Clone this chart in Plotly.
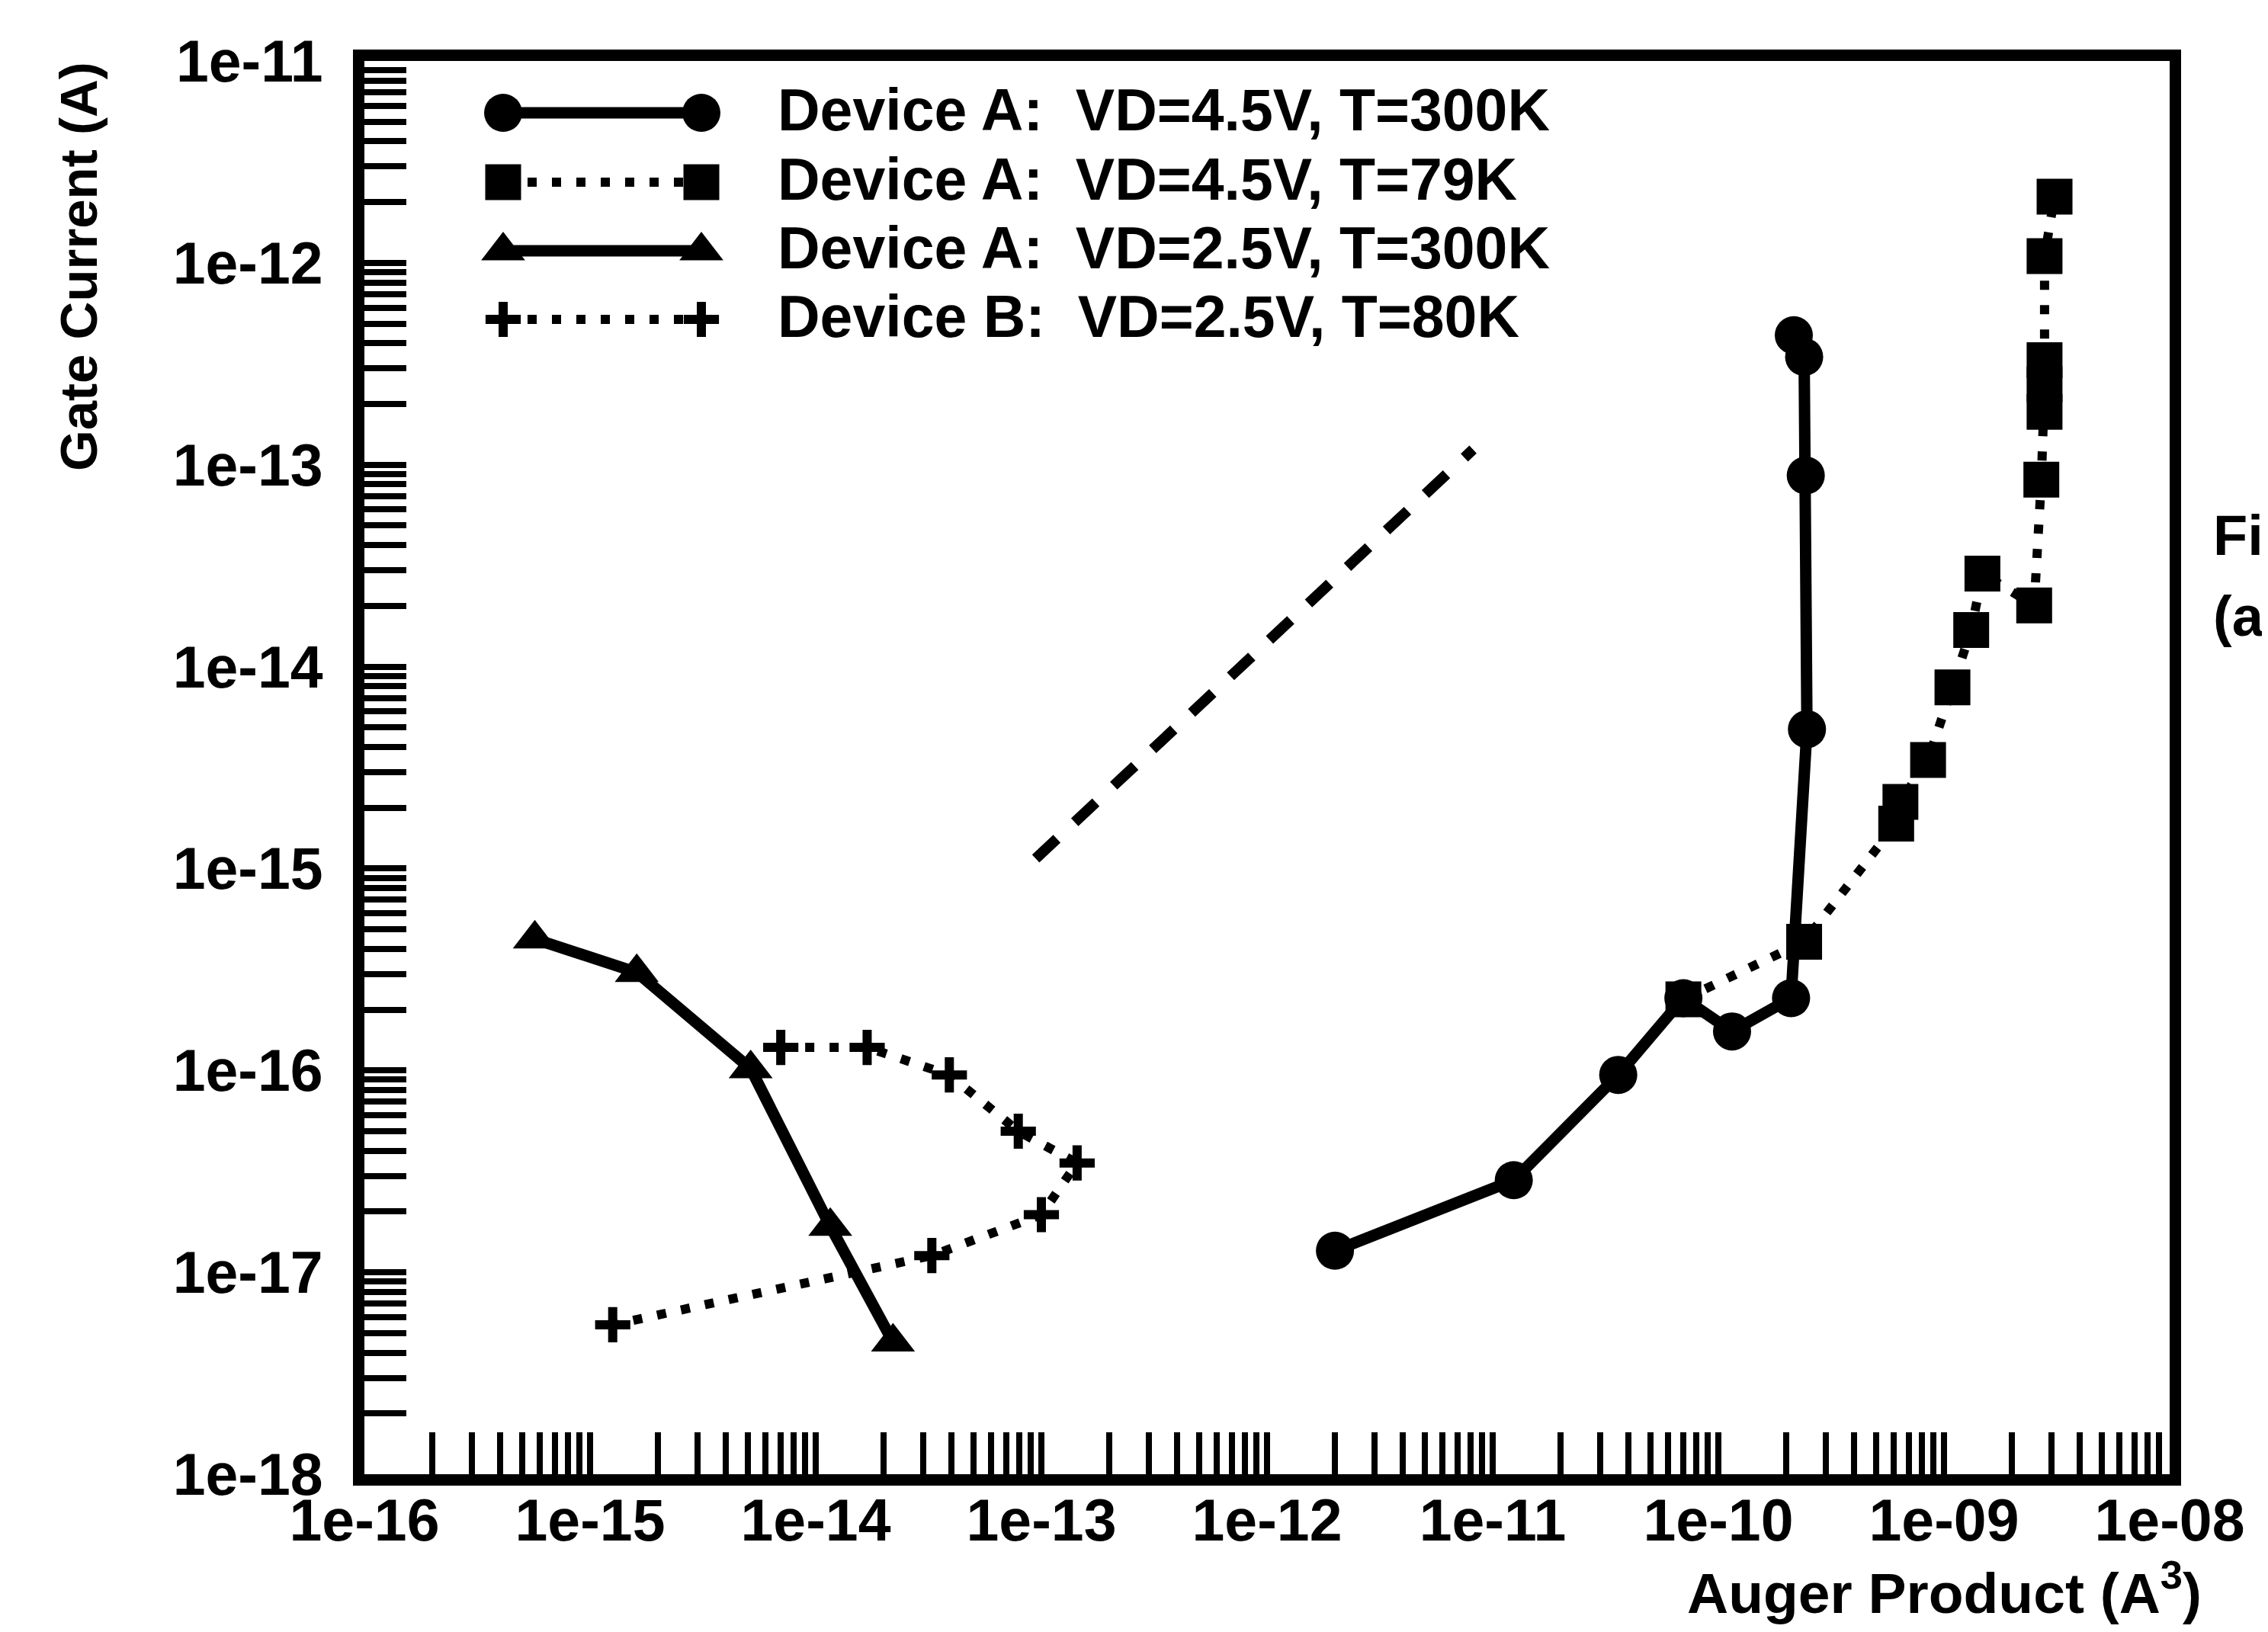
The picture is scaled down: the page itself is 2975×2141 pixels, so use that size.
import plotly.graph_objects as go

# ---------------- data ----------------
# Device A: VD=4.5V, T=300K  (filled circles, solid line)
a45_300_x = [2.0e-12, 1.24e-11, 3.6e-11, 7.0e-11, 1.15e-10, 2.1e-10, 2.47e-10, 2.44e-10, 2.4e-10, 2.16e-10]
a45_300_y = [1.28e-17, 2.86e-17, 9.5e-17, 2.28e-16, 1.56e-16, 2.28e-16, 4.9e-15, 8.85e-14, 3.42e-13, 4.38e-13]

# Device A: VD=4.5V, T=79K  (filled squares, dotted line)
a45_79_x = [7.0e-11, 2.4e-10, 6.14e-10, 6.41e-10, 8.5e-10, 1.09e-9, 1.32e-9, 1.48e-9, 2.51e-9, 2.7e-9,
            2.79e-9, 2.79e-9, 2.79e-9, 2.79e-9, 3.09e-9]
a45_79_y = [2.25e-16, 4.34e-16, 1.67e-15, 2.14e-15, 3.45e-15, 7.9e-15, 1.52e-14, 2.89e-14, 2.01e-14, 8.43e-14,
            1.83e-13, 2.5e-13, 3.3e-13, 1.08e-12, 2.13e-12]

# Device A: VD=2.5V, T=300K  (filled triangles, solid line)
a25_300_x = [5.69e-16, 1.61e-15, 5.15e-15, 1.16e-14, 2.2e-14]
a25_300_y = [4.48e-16, 3.06e-16, 1.02e-16, 1.69e-17, 4.52e-18]

# Device B: VD=2.5V, T=80K  (plus signs, dotted line)
b25_80_x = [7.0e-15, 1.69e-14, 3.91e-14, 7.9e-14, 1.44e-13, 1.0e-13, 3.27e-14, 1.26e-15]
b25_80_y = [1.3e-16, 1.3e-16, 9.5e-17, 5.0e-17, 3.48e-17, 1.93e-17, 1.21e-17, 5.5e-18]

# unlabeled dashed reference line
ref_x = [9.44e-14, 8.18e-12]
ref_y = [1.12e-15, 1.19e-13]

series_names = [
    "Device A:  VD=4.5V, T=300K",
    "Device A:  VD=4.5V, T=79K",
    "Device A:  VD=2.5V, T=300K",
    "Device B:  VD=2.5V, T=80K",
]

x_tickvals = [1e-16, 1e-15, 1e-14, 1e-13, 1e-12, 1e-11, 1e-10, 1e-9, 1e-8]
x_ticktext = ["1e-16", "1e-15", "1e-14", "1e-13", "1e-12", "1e-11", "1e-10", "1e-09", "1e-08"]
y_tickvals = [1e-18, 1e-17, 1e-16, 1e-15, 1e-14, 1e-13, 1e-12, 1e-11]
y_ticktext = ["1e-18", "1e-17", "1e-16", "1e-15", "1e-14", "1e-13", "1e-12", "1e-11"]

x_title = "Auger Product (A<sup>3</sup>)"
y_title = "Gate Current (A)"
side_texts = ["Fi", "(a"]

# ---------------- layout constants ----------------
W, H = 2975, 2141
L, R, T, B = 470, 2838, 72, 1926
FONT = "Liberation Sans, Arial, Helvetica, sans-serif"
INK = "black"

SOLID_W = 15
DOT_W = 12
DOT = "12px,20px"
DASH = "38px,32px"

styles = [
    dict(symbol="circle", size=50, dash="solid", width=SOLID_W, mlw=0),
    dict(symbol="square", size=47, dash=DOT, width=DOT_W, mlw=0),
    dict(symbol="triangle-up", size=50, dash="solid", width=SOLID_W, mlw=0),
    dict(symbol="cross-thin", size=33, dash=DOT, width=DOT_W, mlw=12),
]


def minor_vals(lo, hi):
    vals = []
    for n in range(lo, hi):
        for k in range(2, 10):
            vals.append(k * 10.0 ** n)
    return vals


def px_x(x):
    return (x - L) / (R - L)


def px_y(y):
    return (B - y) / (B - T)


fig = go.Figure()

# dashed reference line
fig.add_trace(go.Scatter(x=ref_x, y=ref_y, mode="lines",
                         line=dict(color=INK, width=14, dash=DASH), showlegend=False))

data = [
    (a45_79_x, a45_79_y, styles[1]),
    (b25_80_x, b25_80_y, styles[3]),
    (a25_300_x, a25_300_y, styles[2]),
    (a45_300_x, a45_300_y, styles[0]),
]
for xs, ys, st in data:
    fig.add_trace(go.Scatter(
        x=xs, y=ys, mode="lines+markers",
        line=dict(color=INK, width=st["width"], dash=st["dash"]),
        marker=dict(symbol=st["symbol"], size=st["size"], color=INK,
                    line=dict(width=st["mlw"], color=INK)),
        showlegend=False, cliponaxis=False))

# ---------------- hand-drawn legend (overlay pixel axes) ----------------
leg_x0, leg_x1 = 652, 912
leg_text_x = 1010
leg_rows = [140, 231, 321, 411]
for name, st, yy in zip(series_names, styles, leg_rows):
    fig.add_trace(go.Scatter(
        x=[leg_x0, leg_x1], y=[yy, yy], xaxis="x2", yaxis="y2",
        mode="lines+markers",
        line=dict(color=INK, width=st["width"], dash=st["dash"]),
        marker=dict(symbol=st["symbol"], size=st["size"], color=INK,
                    line=dict(width=st["mlw"], color=INK)),
        showlegend=False, cliponaxis=False))

bold = lambda s: dict(family=FONT, size=s, color=INK, weight="bold")

annotations = []
for name, yy in zip(series_names, leg_rows):
    annotations.append(dict(x=px_x(leg_text_x), y=px_y(yy - 4), xref="paper", yref="paper", text=name,
                            showarrow=False, xanchor="left", yanchor="middle", font=bold(77)))

annotations.append(dict(x=px_x(95), y=px_y(342), xref="paper", yref="paper", text=y_title, textangle=-90,
                        showarrow=False, xanchor="center", yanchor="middle", font=bold(69)))
annotations.append(dict(x=px_x(2542), y=px_y(2076), xref="paper", yref="paper", text=x_title,
                        showarrow=False, xanchor="center", yanchor="middle", font=bold(75)))
for txt, yy in zip(side_texts, [694, 800]):
    annotations.append(dict(x=px_x(2894), y=px_y(yy), xref="paper", yref="paper", text=txt,
                            showarrow=False, xanchor="left", yanchor="middle", font=bold(74),
                            borderpad=0))

axis_common = dict(
    type="log", showgrid=False, zeroline=False,
    showline=True, linecolor=INK, linewidth=15, mirror=True,
    ticks="inside", ticklen=55, tickwidth=8, tickcolor=INK,
    tickmode="array",
    tickfont=bold(77),
)

fig.update_layout(
    width=W, height=H, autosize=False,
    margin=dict(l=L, r=W - R, t=T, b=H - B, pad=0),
    paper_bgcolor="white", plot_bgcolor="white",
    showlegend=False,
    xaxis=dict(axis_common, range=[-16, -8], tickvals=x_tickvals, ticktext=x_ticktext,
               ticklabelstandoff=-20,
               minor=dict(tickmode="array", tickvals=minor_vals(-16, -8), ticks="inside",
                          ticklen=55, tickwidth=8, tickcolor=INK)),
    yaxis=dict(axis_common, range=[-18, -11], tickvals=y_tickvals, ticktext=y_ticktext,
               ticklabelstandoff=24,
               minor=dict(tickmode="array", tickvals=minor_vals(-18, -11), ticks="inside",
                          ticklen=55, tickwidth=8, tickcolor=INK)),
    xaxis2=dict(overlaying="x", range=[L, R], visible=False, fixedrange=True),
    yaxis2=dict(overlaying="y", range=[B, T], visible=False, fixedrange=True),
    annotations=annotations,
)

fig.write_html("out.html")
